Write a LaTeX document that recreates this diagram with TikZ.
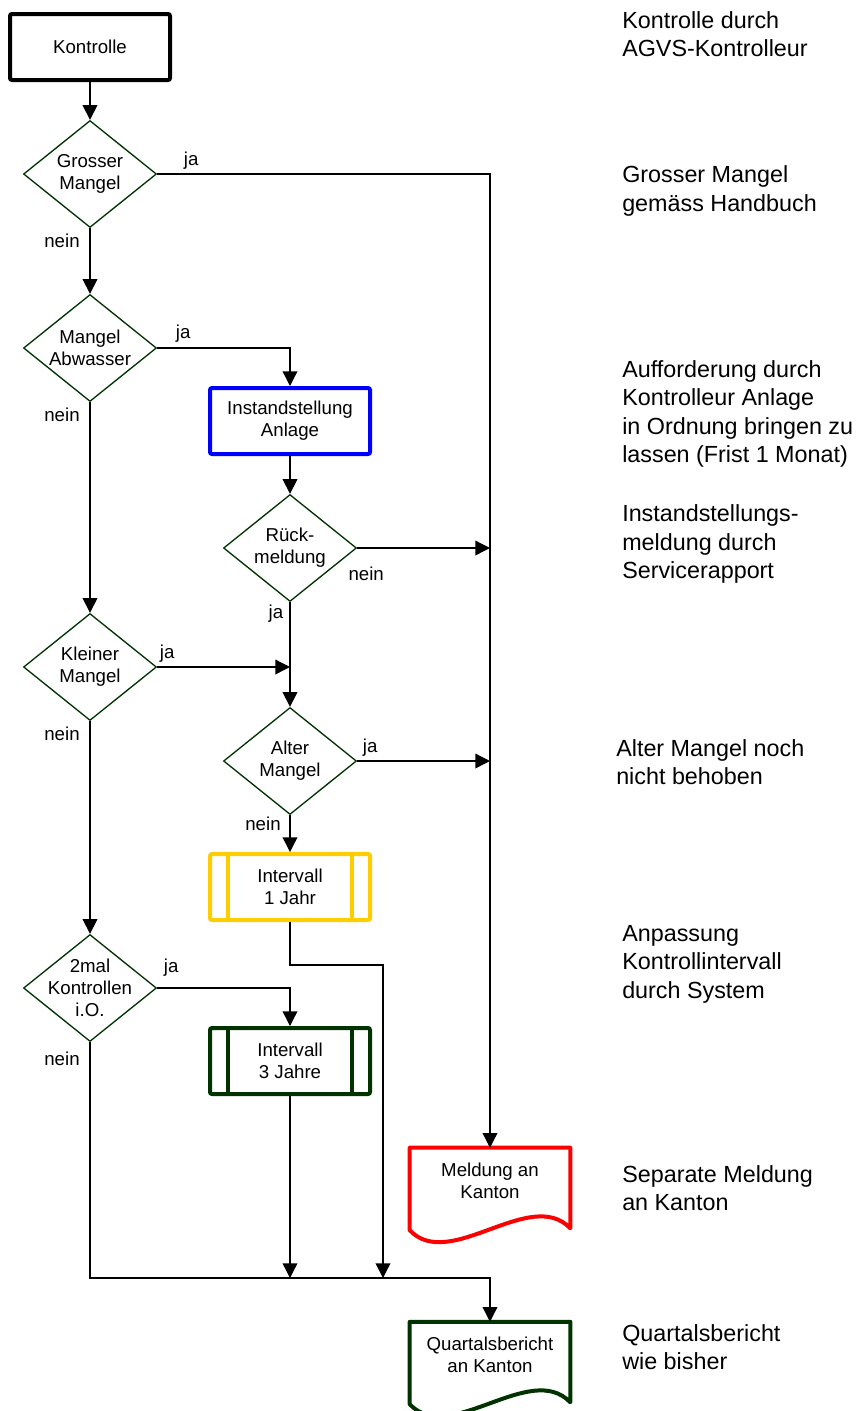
\documentclass[tikz,border=0pt]{standalone}
\usepackage{fontspec}
\setmainfont{Liberation Sans}
\usetikzlibrary{shapes.geometric,arrows.meta,calc}
\definecolor{dgruen}{HTML}{003300}
\definecolor{gelb}{HTML}{FFCC00}

\begin{document}
\begin{tikzpicture}[x=0.75pt,y=-0.75pt,
    font=\fontsize{14pt}{16.5pt}\selectfont,
    pfeil/.style={-{Triangle[length=11pt,width=11pt]},line width=1pt},
    raute/.style={diamond,draw=dgruen,line width=1pt,minimum width=99.75pt,minimum height=80.25pt,inner sep=0pt},
    kasten/.style={rectangle,line width=3pt,rounded corners=1.5pt,minimum width=120pt,minimum height=49.5pt,align=center},
    blatt/.style={rectangle,minimum width=120pt,minimum height=49.5pt,align=center},
    rand/.style={line width=3pt,line join=round},
    lbl/.style={inner sep=0pt},
    notiz/.style={anchor=west,inner sep=0pt,align=left,font=\fontsize{17.5pt}{21.4pt}\selectfont}]

    \useasboundingbox (0,0) rectangle (857,1411);

    % Hauptspalte links
    \node[kasten,draw=black] (kon) at (90,47) {Kontrolle};
    \node[raute] (gm) at (90,174) {};
    \node[align=center] (gm-t) at (gm) {Grosser\\Mangel};
    \node[raute] (ma) at (90,348) {};
    \node[align=center] (ma-t) at (ma) {Mangel\\Abwasser};
    \node[raute] (km) at (90,667) {};
    \node[align=center] (km-t) at (km) {Kleiner\\Mangel};
    \node[raute] (k2) at (90,988) {};
    \node[align=center] (k2-t) at (k2) {2mal\\Kontrollen\\i.O.};

    % Mittlere Spalte
    \node[kasten,draw=blue] (is) at (290,421) {Instandstellung\\Anlage};
    \node[raute] (rm) at (290,548) {};
    \node[align=center] (rm-t) at (rm) {Rück-\\meldung};
    \node[raute] (am) at (290,761) {};
    \node[align=center] (am-t) at (am) {Alter\\Mangel};
    \node[kasten,draw=gelb] (i1) at (290,887) {Intervall\\1 Jahr};
    \node[kasten,draw=dgruen] (i3) at (290,1061) {Intervall\\3 Jahre};
    \foreach \n/\f in {i1/gelb,i3/dgruen}{
        \draw[color=\f,line width=3pt] ([xshift=15pt]\n.north west) -- ([xshift=15pt]\n.south west);
        \draw[color=\f,line width=3pt] ([xshift=-15pt]\n.north east) -- ([xshift=-15pt]\n.south east);
    }

    % Meldungen (Dokumente)
    \node[blatt] (mk) at (490,1181) {Meldung an\\Kanton};
    \draw[rand,red] (mk.north west) -- (mk.north east) -- ($(mk.south east)+(0,14)$)
        .. controls +(-40,-42) and +(40,42) .. ($(mk.south west)+(0,16)$) -- cycle;
    \node[blatt] (qb) at (490,1355) {Quartalsbericht\\an Kanton};
    \draw[rand,dgruen] (qb.north west) -- (qb.north east) -- ($(qb.south east)+(0,14)$)
        .. controls +(-40,-42) and +(40,42) .. ($(qb.south west)+(0,16)$) -- cycle;

    % Sammelpunkte
    \coordinate (unten) at (90,1278);
    \coordinate (i1ziel) at (383,1278);

    % Verbindungen
    \draw[pfeil] (kon) -- (gm);
    \draw[pfeil] (gm.east) -| (mk.north);
    \draw[pfeil] (gm) -- (ma);
    \draw[pfeil] (ma.east) -| (is.north);
    \draw[pfeil] (ma) -- (km);
    \draw[pfeil] (is) -- (rm);
    \draw[pfeil] (rm.east) -- (rm.east -| mk.north);
    \draw[pfeil] (rm) -- (am);
    \draw[pfeil] (km.east) -- (km.east -| rm.south);
    \draw[pfeil] (am.east) -- (am.east -| mk.north);
    \draw[pfeil] (am) -- (i1);
    \draw[pfeil] (i1.south) -- ++(0,43) -| (i1ziel);
    \draw[pfeil] (km) -- (k2);
    \draw[pfeil] (k2.east) -| (i3.north);
    \draw[pfeil] (i3.south) -- (i3.south |- unten);
    \draw[pfeil] (k2.south) -- (unten) -| (qb.north);

    % ja / nein
    \node[lbl] (gm-ja) at ($(gm.east)+(34,-13)$) {ja};
    \node[lbl] (gm-nein) at ($(gm.south)+(-28,13)$) {nein};
    \node[lbl] (ma-ja) at ($(ma.east)+(26,-14)$) {ja};
    \node[lbl] (ma-nein) at ($(ma.south)+(-28,13)$) {nein};
    \node[lbl] (rm-nein) at ($(rm.east)+(9,26)$) {nein};
    \node[lbl] (rm-ja) at ($(rm.south)+(-14,11)$) {ja};
    \node[lbl] (km-ja) at ($(km.east)+(10,-13)$) {ja};
    \node[lbl] (km-nein) at ($(km.south)+(-28,13)$) {nein};
    \node[lbl] (am-ja) at ($(am.east)+(13,-13)$) {ja};
    \node[lbl] (am-nein) at ($(am.south)+(-27,9)$) {nein};
    \node[lbl] (k2-ja) at ($(k2.east)+(14,-20)$) {ja};
    \node[lbl] (k2-nein) at ($(k2.south)+(-28,17)$) {nein};

    % Erläuterungen rechts
    \node[notiz] (n1) at (622,34) {Kontrolle durch\\AGVS-Kontrolleur};
    \node[notiz] (n2) at (622,191) {Grosser Mangel\\gemäss Handbuch};
    \node[notiz] (n3) at (622,414) {Aufforderung durch\\Kontrolleur Anlage\\in Ordnung bringen zu\\lassen (Frist 1 Monat)};
    \node[notiz] (n4) at (622,544) {Instandstellungs-\\meldung durch\\Servicerapport};
    \node[notiz] (n5) at (616,762) {Alter Mangel noch\\nicht behoben};
    \node[notiz] (n6) at (622,964) {Anpassung\\Kontrollintervall\\durch System};
    \node[notiz] (n7) at (622,1188) {Separate Meldung\\an Kanton};
    \node[notiz] (n8) at (622,1347) {Quartalsbericht\\wie bisher};
\end{tikzpicture}
\end{document}
